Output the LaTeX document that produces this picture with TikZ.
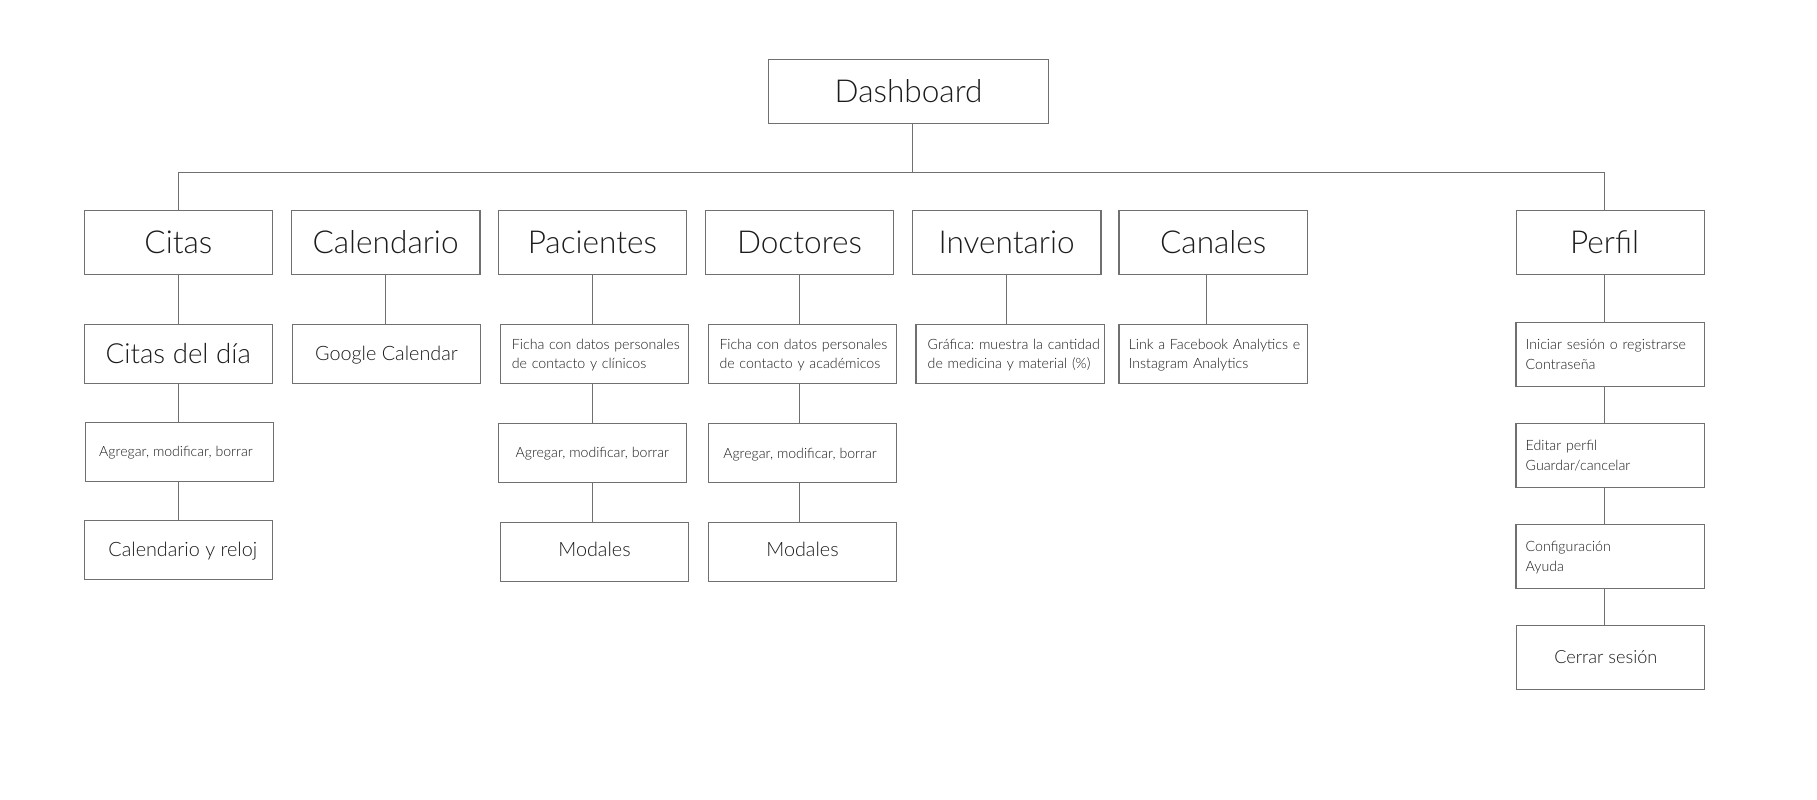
\documentclass[tikz,border=0pt]{standalone}
\usepackage{fontspec}
\IfFontExistsTF{Lato Light}{\setmainfont{Lato Light}}{%
  \IfFontExistsTF{Open Sans Light}{\setmainfont{Open Sans Light}}{%
    \IfFontExistsTF{Fira Sans Light}{\setmainfont{Fira Sans Light}}{\setmainfont{Lato}}}}
\frenchspacing
\definecolor{linec}{HTML}{707070}
\definecolor{txtc}{HTML}{1C1C1C}
\begin{document}
\begin{tikzpicture}[x=1pt,y=-1pt,
  box/.style={draw=linec, line width=1.3pt, rectangle, fill=white, inner sep=0pt,
              minimum width=188.5pt, text=txtc},
  big/.style={box, minimum height=64pt, font=\fontsize{31.6}{36}\selectfont,
              text height=22.6pt, text depth=0pt},
  midA/.style={box, minimum height=59pt, font=\fontsize{27.7}{32}\selectfont,
              text height=19.8pt, text depth=0pt},
  midB/.style={box, minimum height=59pt, font=\fontsize{19.8}{24}\selectfont,
              text height=14.2pt, text depth=0pt},
  small/.style={box, minimum height=59pt, font=\fontsize{14.1}{19.5}\selectfont,
              text height=10.1pt, text depth=0pt},
  note/.style={box, minimum height=59pt, font=\fontsize{14.2}{19.5}\selectfont,
              align=left, text height=10.2pt, text depth=19.5pt},
  conn/.style={draw=linec, line width=1.3pt}]
\fill[white] (0,0) rectangle (1817,800);
\useasboundingbox (0,0) rectangle (1817,800);

% root
\node[big, minimum width=280pt] (dash) at (908.6,91.3) {Dashboard};

% level 1
\node[big] (citas) at (178.4,242.3) {Citas};
\node[big] (cal)   at (385.6,242.3) {Calendario};
\node[big] (pac)   at (592.4,242.3) {Pacientes};
\node[big] (doc)   at (799.5,242.3) {Doctores};
\node[big] (inv)   at (1006.6,242.3) {Inventario};
\node[big] (can)   at (1213.2,242.3) {Canales};
\node[big] (perfil) at (1610.5,242.3) {Perfil\kern12pt};

% level 2
\node[midA, minimum width=188pt] (citasdia) at (178.3,353.8) {Citas del día};
\node[midB, minimum width=188pt] (gcal) at (386.5,353.8) {Google Calendar};
\node[note, text width=165.2pt, inner xsep=11.4pt] (fichap) at (594.5,353.8)
  {\mbox{Ficha con datos personales}\\\mbox{de contacto y clínicos}};
\node[note, text width=166pt, inner xsep=11pt] (fichad) at (802.5,353.8)
  {\mbox{Ficha con datos personales}\\\mbox{de contacto y académicos}};
\node[note, text width=165.2pt, inner xsep=11.4pt] (graf) at (1010.3,353.8)
  {\mbox{Gráfica: muestra la cantidad}\\\mbox{de medicina y material (\%)}};
\node[note, text width=169.2pt, inner xsep=9.4pt] (link) at (1213.3,353.8)
  {\mbox{Link a Facebook Analytics e}\\\mbox{Instagram Analytics}};
\node[note, text width=169.2pt, inner xsep=9.4pt, minimum height=64pt] (ini) at (1610.3,354.3)
  {\mbox{Iniciar sesión o registrarse}\\\mbox{Contraseña}};

% level 3
\node[small, minimum width=188pt] (agc) at (179.3,451.8) {Agregar, modificar, borrar\kern6.6pt};
\node[small, minimum width=188pt] (agp) at (592.3,452.8) {Agregar, modificar, borrar};
\node[small, minimum width=188pt] (agd) at (802.5,453) {Agregar, modificar, borrar\kern5pt};
\node[note, text width=169.2pt, inner xsep=9.4pt, minimum height=64pt] (edit) at (1610.3,455.3)
  {\mbox{Editar perfil}\\\mbox{Guardar/cancelar}};

% level 4
\node[midB, minimum width=188.4pt] (calr) at (178.5,549.7) {\kern8.6pt Calendario y reloj};
\node[midB, minimum width=188.4pt, text depth=4.4pt] (modp) at (594.5,552) {Modales};
\node[midB, minimum width=188.4pt, text depth=4.4pt] (modd) at (802.5,552) {Modales};
\node[note, text width=169.2pt, inner xsep=9.4pt, minimum height=64pt] (conf) at (1610.3,556.3)
  {\mbox{Configuración}\\\mbox{Ayuda}};

% level 5
\node[box, minimum width=188pt, minimum height=64pt, font=\fontsize{18.1}{22}\selectfont,
      text height=13pt, text depth=0pt] (cerrar) at (1610.3,657.3) {Cerrar sesión\kern9pt};

% helper coordinates
\coordinate (bus) at (0,172.3);
\coordinate (dashout) at ([xshift=3.9pt]dash.south);
\coordinate (pfn) at ([xshift=-6.2pt]perfil.north);
\coordinate (pfx) at ([xshift=-6.2pt]perfil.south);
\coordinate (cnx) at ([xshift=-6.7pt]can.south);

% connectors
\draw[conn] (dashout) -- (dashout |- bus);
\draw[conn] (citas.north) -- (citas.north |- bus) -- (pfn |- bus) -- (pfn);

\draw[conn] (citas.south) -- (citas.south |- citasdia.north);
\draw[conn] (citasdia.south -| citas.south) -- (citas.south |- agc.north);
\draw[conn] (agc.south -| citas.south) -- (citas.south |- calr.north);

\draw[conn] (cal.south) -- (cal.south |- gcal.north);

\draw[conn] (pac.south) -- (pac.south |- fichap.north);
\draw[conn] (fichap.south -| pac.south) -- (pac.south |- agp.north);
\draw[conn] (agp.south -| pac.south) -- (pac.south |- modp.north);

\draw[conn] (doc.south) -- (doc.south |- fichad.north);
\draw[conn] (fichad.south -| doc.south) -- (doc.south |- agd.north);
\draw[conn] (agd.south -| doc.south) -- (doc.south |- modd.north);

\draw[conn] (inv.south) -- (inv.south |- graf.north);
\draw[conn] (cnx) -- (cnx |- link.north);

\draw[conn] (pfx) -- (pfx |- ini.north);
\draw[conn] (ini.south -| pfx) -- (pfx |- edit.north);
\draw[conn] (edit.south -| pfx) -- (pfx |- conf.north);
\draw[conn] (conf.south -| pfx) -- (pfx |- cerrar.north);
\end{tikzpicture}
\end{document}
